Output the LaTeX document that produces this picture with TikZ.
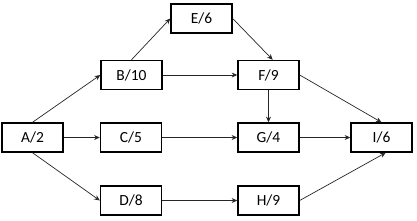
\documentclass[tikz,border=0pt]{standalone}
\usepackage{fontspec}
\setmainfont{Carlito}
\usetikzlibrary{arrows.meta}
\begin{document}
\begin{tikzpicture}[
        x=0.025cm, y=-0.025cm,
        >={Stealth[length=4pt,width=3.5pt]},
        font=\fontsize{11}{13}\selectfont,
        % task box
        task/.style={
            rectangle,
            draw,
            minimum width=1.525cm,
            minimum height=0.725cm,
            inner sep=0pt,
            line width=1pt
        },
        % precedence arrow
        link/.style={
            ->,
            color=black!85,
            line width=0.5pt
        }
    ]
    \useasboundingbox (0,0) rectangle (417,220);

    % --- 1. tasks ---
    \node (A) [task] at (32.5,137.5) {A/2};
    \node (B) [task] at (131.5,75) {B/10};
    \node (C) [task] at (131,137.5) {C/5};
    \node (D) [task] at (131,200.5) {D/8};
    \node (E) [task] at (201.5,18.5) {E/6};
    \node (F) [task] at (268.5,75) {F/9};
    \node (G) [task] at (268.5,137.5) {G/4};
    \node (H) [task] at (268.5,200.5) {H/9};
    \node (I) [task] at (381.5,137.5) {I/6};

    % --- 2. precedence links ---
    \draw[link] (A.north) -- (B.west);
    \draw[link] (A.east) -- (C.west);
    \draw[link] (A.south) -- (D.west);
    \draw[link] (B.north) -- (E.west);
    \draw[link] (B.east) -- (F.west);
    \draw[link] (C.east) -- (G.west);
    \draw[link] (D.east) -- (H.west);
    \draw[link] (E.east) -- ([xshift=3pt]F.north);
    \draw[link] (F.south) -- (G.north);
    \draw[link] (F.east) -- (I.north);
    \draw[link] (G.east) -- (I.west);
    \draw[link] (H.east) -- ([xshift=3pt]I.south);

\end{tikzpicture}
\end{document}
